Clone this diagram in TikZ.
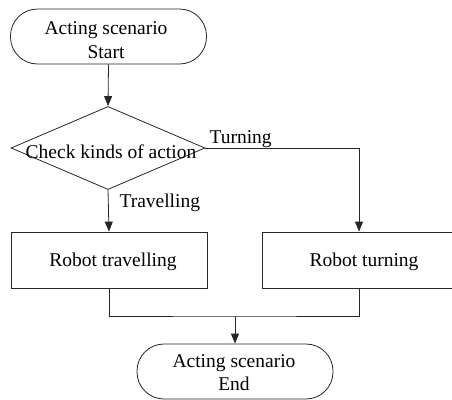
\documentclass[tikz,border=0pt]{standalone}
\usepackage{fontspec}
\setmainfont{Liberation Serif}
\usetikzlibrary{arrows.meta,shapes.geometric}
\begin{document}
\begin{tikzpicture}[x=1pt,y=-1pt,
  every node/.style={font=\fontsize{19.5}{24}\selectfont, text=black},
  line/.style={draw=black!85, line width=0.8pt},
  arr/.style={line, -{Triangle[length=10pt,width=8pt]}},
  term/.style={line, rectangle, rounded corners=27pt, minimum width=196pt, minimum height=55pt, inner sep=0pt},
  stepbox/.style={line, rectangle, minimum width=196pt, minimum height=56pt, inner sep=0pt},
  dec/.style={line, diamond, minimum width=194pt, minimum height=83pt, inner sep=0pt},
  txt/.style={anchor=base, inner sep=0pt}]
\useasboundingbox (0,0) rectangle (452,399);

\node[term] (start) at (108.5,36.5) {};
\node[txt] (st1) at (106,34) {Acting scenario};
\node[txt] (st2) at (106,58) {Start};
\node[dec] (chk) at (108,148) {};
\node[txt] (chktxt) at (111,158) {Check kinds of action};
\node[stepbox] (trav) at (109,260) {};
\node[txt] (travtxt) at (113,266) {Robot travelling};
\node[stepbox, minimum width=194pt] (turn) at (359,260) {};
\node[txt] (turntxt) at (364,266) {Robot turning};
\node[term] (end) at (235,371.5) {};
\node[txt] (en1) at (234,367) {Acting scenario};
\node[txt] (en2) at (234,390) {End};

\draw[arr] (start.south) -- (chk.north);
\draw[arr] (chk.south) -- (trav.north);
\draw[arr] (chk.east) -| (turn.north);
\node[anchor=base west] (lturn) at (206,143) {Turning};
\node[anchor=base west] (ltrav) at (116,207) {Travelling};

\coordinate (j) at (end.north |- 0,316);
\draw[line] (trav.south) |- (j) -| (turn.south);
\draw[arr] (j) -- (end.north);
\end{tikzpicture}
\end{document}
